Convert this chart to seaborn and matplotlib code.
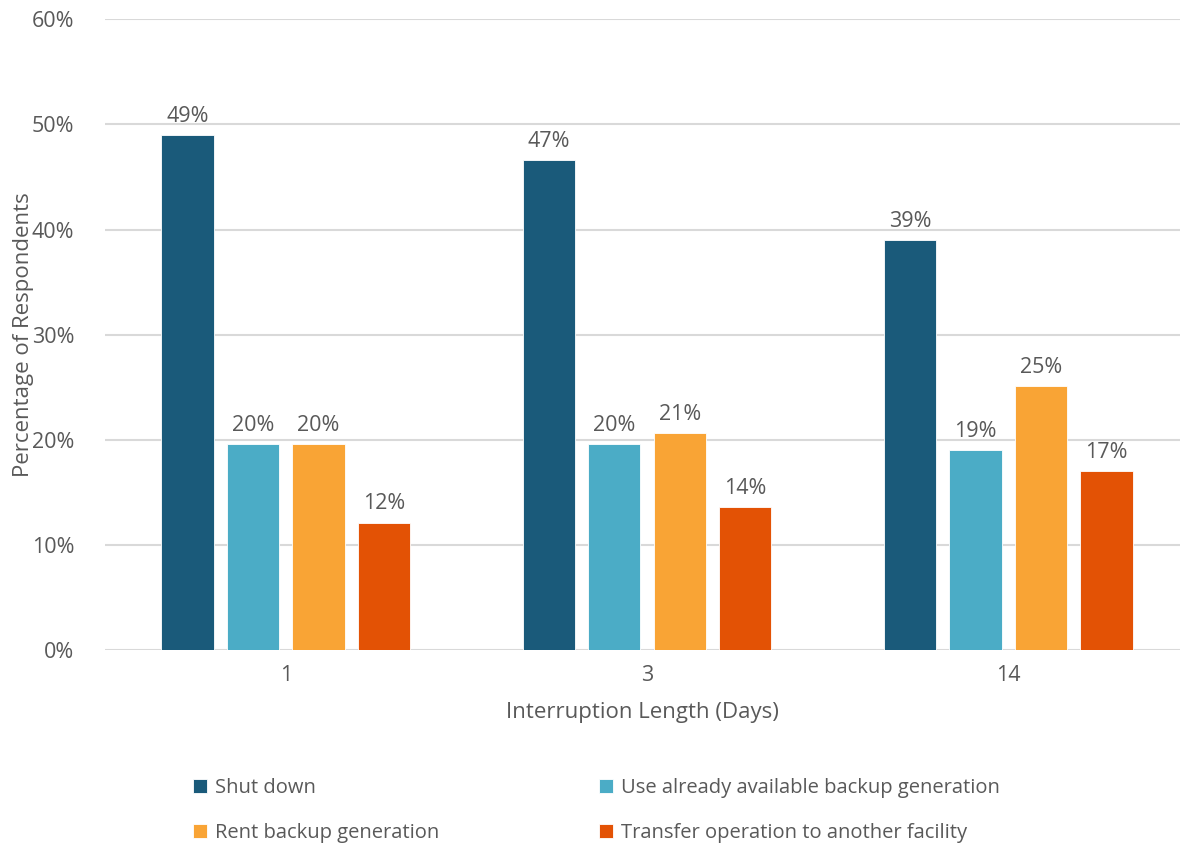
import matplotlib
matplotlib.use("Agg")
import matplotlib.pyplot as plt
import numpy as np
import pandas as pd
import seaborn as sns
from matplotlib.ticker import PercentFormatter

# %%
lengths = ["1", "3", "14"]
responses = [
    "Shut down",
    "Use already available backup generation",
    "Rent backup generation",
    "Transfer operation to another facility",
]
shut_down = [49.0, 46.6, 39.0]
use_backup = [19.6, 19.6, 19.0]
rent_backup = [19.6, 20.6, 25.1]
transfer = [12.1, 13.6, 17.0]
colors = ["#1a5a7a", "#4bacc6", "#f9a435", "#e35205"]

df = pd.DataFrame({
    "length": lengths * 4,
    "response": np.repeat(responses, 3),
    "pct": shut_down + use_backup + rent_backup + transfer,
})

# %%
sns.set_style("white")
plt.rcParams["font.family"] = ["Open Sans", "DejaVu Sans"]
text_color = "#595959"

fig = plt.figure(figsize=(11.8, 8.43), dpi=100)
ax = fig.add_axes([0.089, 0.229, 0.911, 0.748])
sns.barplot(
    data=df, x="length", y="pct", hue="response",
    order=lengths, hue_order=responses, palette=colors, saturation=1,
    width=0.725, gap=0.2, ax=ax, legend=True,
    edgecolor="white", linewidth=0.6,
)
for cont in ax.containers:
    ax.bar_label(cont, labels=[f"{v:.0f}%" for v in cont.datavalues],
                 padding=6, fontsize=15.5, color=text_color)

ax.set_ylim(0, 60)
ax.set_xlim(-0.5, 2.475)
ax.set_yticks(range(0, 61, 10))
ax.yaxis.set_major_formatter(PercentFormatter(decimals=0))
ax.grid(axis="y", color="#d9d9d9", linewidth=1.5)
ax.set_axisbelow(True)
sns.despine(ax=ax, left=True, bottom=True, top=True, right=True)
ax.tick_params(axis="both", length=0, labelsize=15.5, labelcolor=text_color, pad=11)
ax.tick_params(axis="y", pad=22)
ax.set_xlabel("Interruption Length (Days)", fontsize=16, color=text_color, labelpad=11)
ax.set_ylabel("Percentage of Respondents", fontsize=16, color=text_color)
ax.yaxis.set_label_coords(-0.066, 0.5)

# legend fills row by row in the reference
handles, labels = ax.get_legend_handles_labels()
order = [0, 2, 1, 3]
ax.legend_.remove()
fig.legend([handles[i] for i in order], [labels[i] for i in order],
           ncol=2, loc="upper left", bbox_to_anchor=(0.148, 0.0985),
           frameon=False, fontsize=14.5, labelcolor=text_color,
           handlelength=0.7, handleheight=0.7, handletextpad=0.4,
           columnspacing=7.95, labelspacing=1.22)

fig.savefig("out.png", dpi=100)
